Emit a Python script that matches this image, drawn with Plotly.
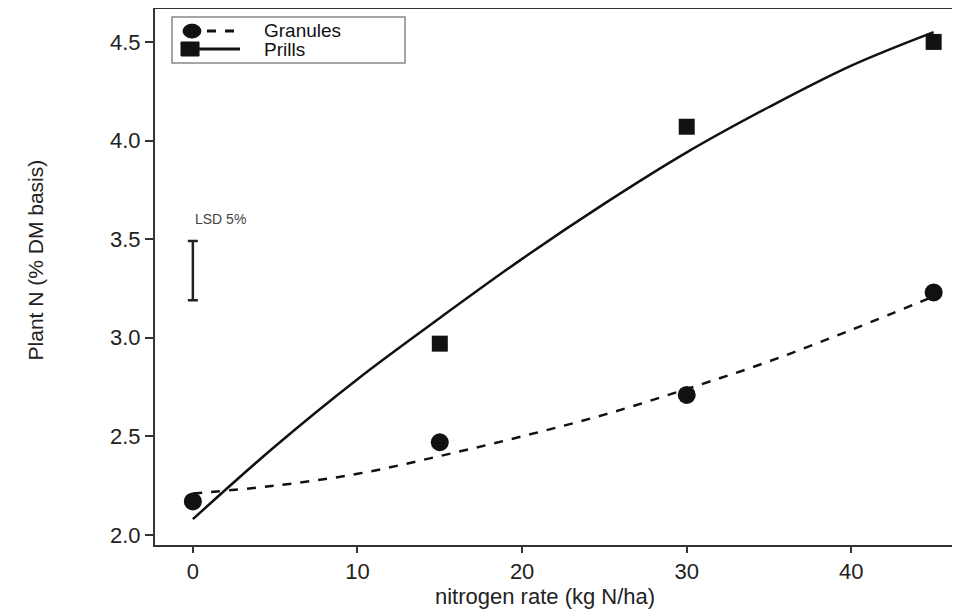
import plotly.graph_objects as go

# Observed data
rate = [0, 15, 30, 45]
granules = [2.17, 2.47, 2.71, 3.23]
prills_rate = [15, 30, 45]
prills = [2.97, 4.07, 4.50]

# Fitted curves
curve_x = [0, 5, 10, 15, 20, 25, 30, 35, 40, 45]
granules_fit = [2.21, 2.25, 2.31, 2.40, 2.50, 2.61, 2.74, 2.88, 3.04, 3.21]
prills_fit = [2.08, 2.45, 2.79, 3.10, 3.40, 3.68, 3.94, 4.17, 4.38, 4.55]

# LSD bar
lsd_x = [0]
lsd_mid = [3.34]
lsd_half = [0.15]

series_names = ["Granules", "Prills"]

black = "#111111"
fnt = "Liberation Sans, Arial, sans-serif"

fig = go.Figure()

fig.add_trace(go.Scatter(x=curve_x, y=granules_fit, mode="lines", line=dict(color=black, width=2.5, dash="dash", shape="spline"), showlegend=False, hoverinfo="skip"))
fig.add_trace(go.Scatter(x=curve_x, y=prills_fit, mode="lines", line=dict(color=black, width=2.5, shape="spline"), showlegend=False, hoverinfo="skip"))
fig.add_trace(go.Scatter(x=rate, y=granules, mode="markers", name=series_names[0], marker=dict(symbol="circle", size=18, color=black), showlegend=False))
fig.add_trace(go.Scatter(x=prills_rate, y=prills, mode="markers", name=series_names[1], marker=dict(symbol="square", size=16, color=black), showlegend=False))

# LSD error bar
fig.add_trace(go.Scatter(x=lsd_x, y=lsd_mid, mode="markers", marker=dict(size=0.1, color="rgba(0,0,0,0)"),
                         error_y=dict(type="data", array=lsd_half, color="#222222", thickness=2.5, width=5),
                         showlegend=False, hoverinfo="skip"))

fig.add_annotation(x=lsd_x[0], y=3.55, xref="x", yref="y", text="LSD 5%", showarrow=False,
                   xanchor="left", yanchor="bottom", font=dict(family=fnt, size=14, color="#444444"))

# axis titles
fig.add_annotation(x=0.485, y=-0.095, xref="paper", yref="paper", text="nitrogen rate (kg N/ha)", showarrow=False,
                   xanchor="center", yanchor="middle", font=dict(family=fnt, size=22, color="#222222"))
fig.add_annotation(x=-0.149, y=0.53, xref="paper", yref="paper", text="Plant N (% DM basis)", showarrow=False,
                   textangle=-90, xanchor="center", yanchor="middle", font=dict(family=fnt, size=21, color="#222222"))

# custom legend (box, symbols, texts)
fig.add_shape(type="rect", xref="paper", yref="paper", x0=0.0211, x1=0.3106, y0=0.8976, y1=0.9832,
              line=dict(color="#888888", width=1.5), fillcolor="white", layer="above")
fig.add_shape(type="circle", xref="paper", yref="paper", x0=0.0348, x1=0.0571, y0=0.944, y1=0.970,
              line=dict(color=black, width=1), fillcolor=black, layer="above")
fig.add_shape(type="line", xref="paper", yref="paper", x0=0.0646, x1=0.1056, y0=0.957, y1=0.957,
              line=dict(color=black, width=3, dash="dash"), layer="above")
fig.add_shape(type="rect", xref="paper", yref="paper", x0=0.0323, x1=0.0547, y0=0.9106, y1=0.9367,
              line=dict(color=black, width=1), fillcolor=black, layer="above")
fig.add_shape(type="line", xref="paper", yref="paper", x0=0.0547, x1=0.1056, y0=0.9236, y1=0.9236,
              line=dict(color=black, width=3), layer="above")
fig.add_annotation(x=0.133, y=0.959, xref="paper", yref="paper", text=series_names[0], showarrow=False,
                   xanchor="left", yanchor="middle", font=dict(family=fnt, size=19, color="#111111"))
fig.add_annotation(x=0.133, y=0.923, xref="paper", yref="paper", text=series_names[1], showarrow=False,
                   xanchor="left", yanchor="middle", font=dict(family=fnt, size=19, color="#111111"))

fig.update_layout(
    width=952, height=602,
    margin=dict(l=147, r=0, t=0, b=65),
    paper_bgcolor="white", plot_bgcolor="white",
    font=dict(family=fnt, color="#222222"),
    showlegend=False,
    xaxis=dict(range=[-2.3, 46.6], tickvals=[0, 10, 20, 30, 40], showgrid=False, zeroline=False,
               showline=True, linecolor="#333333", linewidth=2, mirror=False, automargin=False,
               ticks="outside", ticklen=6, tickwidth=2, tickcolor="#333333",
               tickfont=dict(size=22, color="#222222")),
    yaxis=dict(range=[1.949, 4.672], tickvals=[2.0, 2.5, 3.0, 3.5, 4.0, 4.5], ticktext=["2.0", "2.5", "3.0", "3.5", "4.0", "4.5"],
               showgrid=False, zeroline=False, showline=True, linecolor="#333333", linewidth=2, automargin=False,
               ticks="outside", ticklen=8, tickwidth=2, tickcolor="#333333",
               tickfont=dict(size=22, color="#222222")),
)

# top border line
fig.add_shape(type="line", xref="paper", yref="paper", x0=0, x1=1, y0=1, y1=1, line=dict(color="#333333", width=2))

fig.write_html("out.html")
